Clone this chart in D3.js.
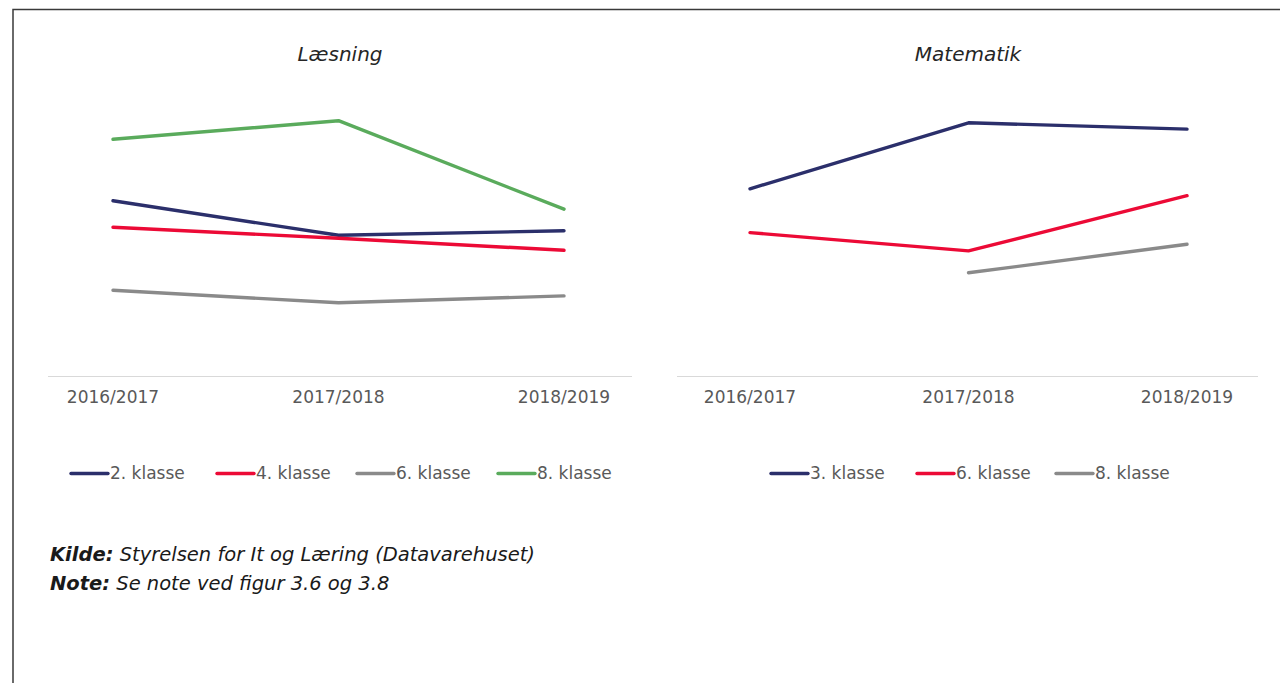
<!DOCTYPE html>
<html>
<head>
<meta charset="utf-8">
<script src="https://cdn.jsdelivr.net/npm/d3@7"></script>
<style>
  body { margin: 0; background: #fff; }
  svg { display: block; }
</style>
</head>
<body>
<svg id="chart" width="1280" height="683"></svg>
<script>
var years = ["2016/2017", "2017/2018", "2018/2019"];

// Læsning
var readClasses = ["2. klasse", "4. klasse", "6. klasse", "8. klasse"];
var read2 = [58.4, 46.9, 48.4];
var read4 = [49.6, 45.9, 41.9];
var read6 = [28.6, 24.4, 26.7];
var read8 = [78.9, 85.1, 55.6];

// Matematik
var mathClasses = ["3. klasse", "6. klasse", "8. klasse"];
var math3 = [62.4, 84.4, 82.3];
var math6 = [47.8, 41.7, 60.1];
var math8 = [null, 34.4, 43.9];

var navy = "#2b2f6b", red = "#ec0a36", grey = "#8a8a8a", green = "#5aab5c";

var svg = d3.select("#chart");

// frame
svg.append("path")
  .attr("d", "M13,683V9.5H1280")
  .style("fill", "none")
  .style("stroke", "#3a3a3a")
  .style("stroke-width", 1.5);

var y = d3.scaleLinear().domain([0, 100]).range([376, 76]);

function panel(opt) {
  var g = svg.append("g");
  var x = d3.scalePoint().domain(years).range(opt.points);

  g.append("text")
    .attr("x", opt.titleX).attr("y", 61)
    .attr("text-anchor", "middle")
    .style("font-family", "DejaVu Sans")
    .style("font-style", "italic")
    .style("font-size", "20px")
    .style("fill", "#262626")
    .text(opt.title);

  g.append("line")
    .attr("x1", opt.axis[0]).attr("x2", opt.axis[1])
    .attr("y1", 376.5).attr("y2", 376.5)
    .style("stroke", "#d9d9d9")
    .style("stroke-width", 1.2);

  g.selectAll(".tick").data(years).enter().append("text")
    .attr("x", function (d) { return x(d); })
    .attr("y", 403)
    .attr("text-anchor", "middle")
    .style("font-family", "DejaVu Sans")
    .style("font-size", "17px")
    .style("fill", "#595959")
    .text(function (d) { return d; });

  var line = d3.line()
    .defined(function (d) { return d != null; })
    .x(function (d, i) { return x(years[i]); })
    .y(function (d) { return y(d); });

  opt.series.forEach(function (s) {
    g.append("path")
      .attr("d", line(s.values))
      .style("fill", "none")
      .style("stroke", s.color)
      .style("stroke-width", 3.4)
      .style("stroke-linecap", "round")
      .style("stroke-linejoin", "round");
  });

  opt.series.forEach(function (s, i) {
    var lx = opt.legend[i];
    g.append("line")
      .attr("x1", lx).attr("x2", lx + 37)
      .attr("y1", 473.5).attr("y2", 473.5)
      .style("stroke", s.color)
      .style("stroke-width", 3.4)
      .style("stroke-linecap", "round");
    g.append("text")
      .attr("x", lx + 39).attr("y", 479)
      .style("font-family", "DejaVu Sans")
      .style("font-size", "17px")
      .style("fill", "#595959")
      .text(s.name);
  });
}

panel({
  title: "Læsning", titleX: 340,
  points: [113, 564], axis: [48, 632],
  legend: [71, 217, 357, 498],
  series: [
    { name: readClasses[0], values: read2, color: navy },
    { name: readClasses[1], values: read4, color: red },
    { name: readClasses[2], values: read6, color: grey },
    { name: readClasses[3], values: read8, color: green }
  ]
});

panel({
  title: "Matematik", titleX: 968,
  points: [750, 1187], axis: [677, 1258],
  legend: [771, 917, 1056],
  series: [
    { name: mathClasses[0], values: math3, color: navy },
    { name: mathClasses[1], values: math6, color: red },
    { name: mathClasses[2], values: math8, color: grey }
  ]
});

// source notes
var notes = [["Kilde:", " Styrelsen for It og Læring (Datavarehuset)"], ["Note:", " Se note ved figur 3.6 og 3.8"]];
notes.forEach(function (n, i) {
  var t = svg.append("text")
    .attr("x", 50).attr("y", 561 + i * 29)
    .style("font-family", "DejaVu Sans")
    .style("font-style", "italic")
    .style("font-size", "19.5px")
    .style("fill", "#1a1a1a");
  t.append("tspan").style("font-weight", "bold").text(n[0]);
  t.append("tspan").text(n[1]);
});
</script>
</body>
</html>
